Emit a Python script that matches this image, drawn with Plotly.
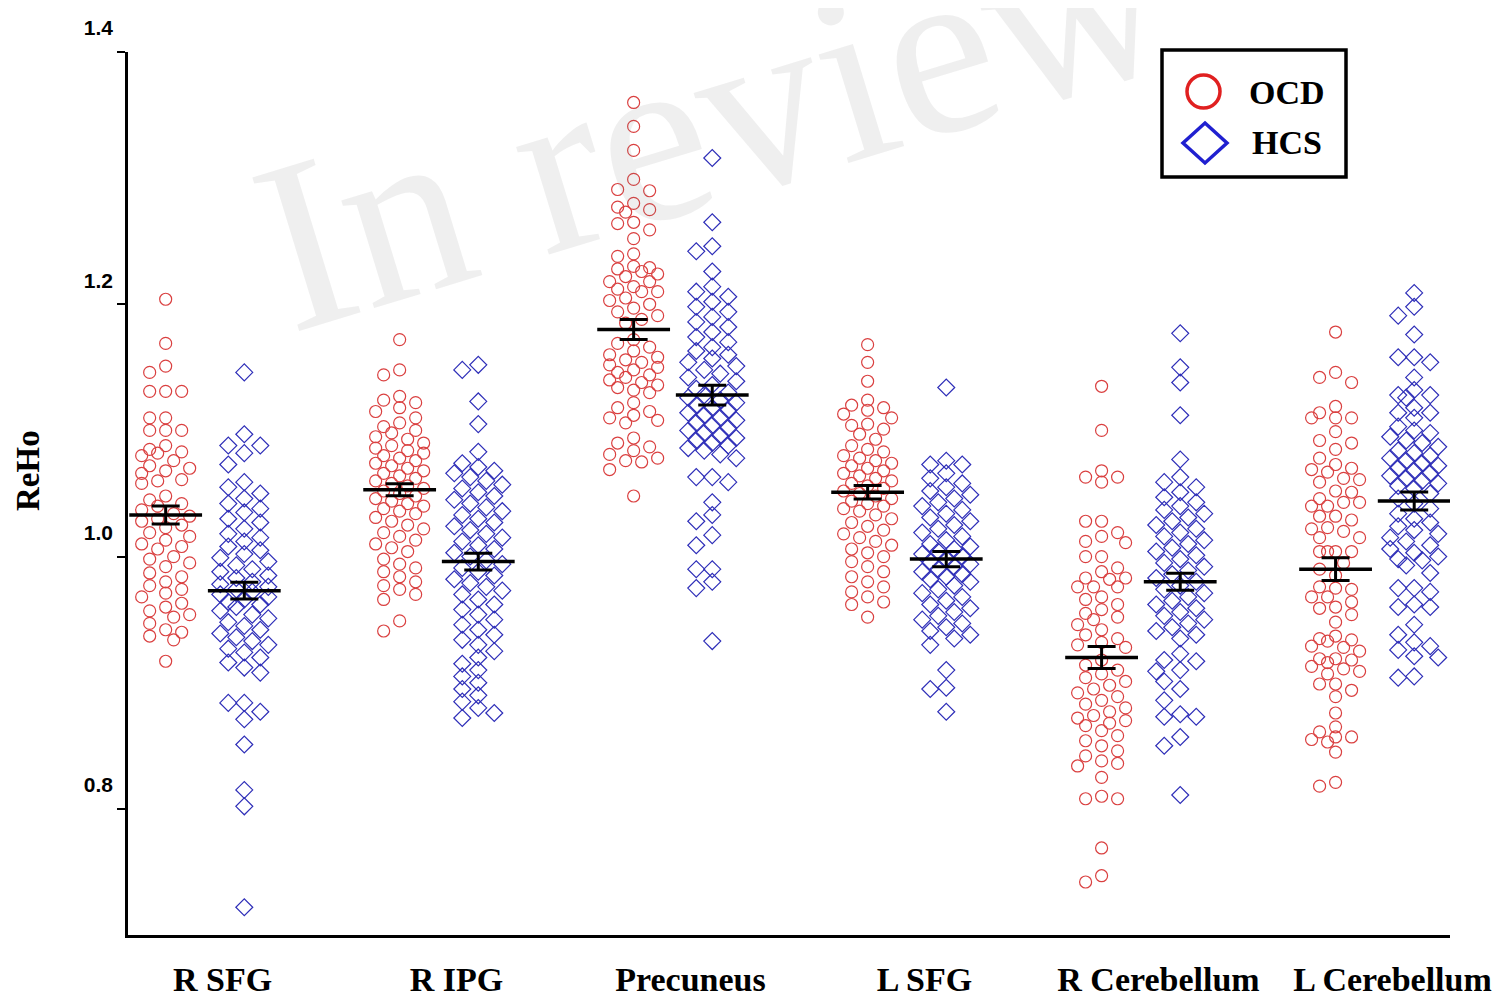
import numpy as np
import plotly.graph_objects as go

categories = ["R SFG", "R IPG", "Precuneus", "L SFG", "R Cerebellum", "L Cerebellum"]
tick_values = [0.8, 1.0, 1.2, 1.4]
tick_labels = ["0.8", "1.0", "1.2", "1.4"]

ocd_rsfg = [1.204, 1.169, 1.151, 1.146, 1.131, 1.131, 1.131, 1.110, 1.110, 1.100, 1.100, 1.100,
            1.088, 1.085, 1.083, 1.082, 1.080, 1.076, 1.072, 1.070, 1.068, 1.066, 1.061, 1.060, 1.058,
            1.048, 1.045, 1.042, 1.040, 1.037, 1.034, 1.032, 1.030, 1.028, 1.025, 1.023, 1.019, 1.016,
            1.013, 1.010, 1.008, 1.006, 1.000, 0.998, 0.995, 0.992, 0.987, 0.984, 0.980, 0.977, 0.974,
            0.971, 0.968, 0.963, 0.960, 0.957, 0.954, 0.952, 0.947, 0.942, 0.940, 0.937, 0.934, 0.917]
hcs_rsfg = [1.146, 1.097, 1.088, 1.088, 1.082, 1.073,
            1.059, 1.055, 1.050, 1.046, 1.042, 1.038, 1.035, 1.030, 1.027, 1.022, 1.018, 1.015, 1.012,
            1.008, 1.005, 1.002, 0.999, 0.996, 0.993, 0.990, 0.988, 0.985, 0.983, 0.980, 0.978, 0.976,
            0.974, 0.972, 0.970, 0.968, 0.966, 0.964, 0.962, 0.960, 0.957, 0.954, 0.951, 0.948, 0.945,
            0.942, 0.939, 0.936, 0.933, 0.930, 0.927, 0.924, 0.920, 0.916, 0.912, 0.908,
            0.884, 0.884, 0.877, 0.871, 0.851, 0.815, 0.802, 0.722]
ocd_ripg = [1.172, 1.148, 1.144, 1.127, 1.124, 1.122, 1.118, 1.115, 1.110,
            1.106, 1.103, 1.100, 1.098, 1.095, 1.093, 1.090, 1.088, 1.086, 1.084, 1.082, 1.080, 1.078,
            1.076, 1.074, 1.072, 1.070, 1.068, 1.066, 1.064, 1.062, 1.060, 1.058, 1.056, 1.054, 1.052,
            1.050, 1.048, 1.046, 1.044, 1.042, 1.040, 1.038, 1.036, 1.034, 1.031, 1.028, 1.025, 1.022,
            1.019, 1.016, 1.013, 1.010, 1.007, 1.004,
            0.998, 0.994, 0.991, 0.988, 0.984, 0.980, 0.977, 0.974, 0.970, 0.966, 0.949, 0.941]
hcs_ripg = [1.152, 1.148, 1.123, 1.105, 1.083,
            1.074, 1.071, 1.068, 1.066, 1.063, 1.060, 1.057, 1.054, 1.051, 1.048, 1.045, 1.042, 1.039,
            1.036, 1.033, 1.030, 1.027, 1.024, 1.021, 1.018, 1.015, 1.012, 1.009, 1.006, 1.003, 1.000,
            0.997, 0.994, 0.991, 0.988, 0.985, 0.982, 0.979, 0.976, 0.973, 0.970, 0.966, 0.962, 0.958,
            0.954, 0.950, 0.946, 0.942, 0.938, 0.934, 0.930, 0.925, 0.920, 0.915, 0.910, 0.905, 0.900,
            0.895, 0.890, 0.885, 0.880, 0.876, 0.872]
ocd_prec = [1.360, 1.341, 1.322, 1.299, 1.291, 1.290, 1.280, 1.277, 1.275, 1.273, 1.265, 1.264,
            1.259, 1.252, 1.240, 1.238, 1.230, 1.229, 1.228, 1.226, 1.224, 1.222, 1.218, 1.218, 1.214,
            1.212, 1.210, 1.210, 1.205, 1.203, 1.200, 1.197, 1.194, 1.191, 1.188, 1.185,
            1.172, 1.169, 1.166, 1.163, 1.160, 1.158, 1.156, 1.154, 1.152, 1.150, 1.148, 1.146, 1.144,
            1.142, 1.140, 1.138, 1.136, 1.134, 1.132, 1.130, 1.122, 1.118, 1.115, 1.112, 1.110, 1.108,
            1.106, 1.094, 1.090, 1.087, 1.084, 1.081, 1.078, 1.076, 1.075, 1.069, 1.048]
hcs_prec = [1.316, 1.265, 1.246, 1.242, 1.226,
            1.214, 1.210, 1.206, 1.202, 1.198, 1.194, 1.190, 1.186, 1.182, 1.178, 1.174, 1.170, 1.166,
            1.163, 1.160, 1.157, 1.154, 1.151, 1.148, 1.145, 1.142, 1.139, 1.136, 1.133, 1.130, 1.128,
            1.126, 1.124, 1.122, 1.120, 1.118, 1.116, 1.114, 1.112, 1.110, 1.108, 1.106, 1.104, 1.102,
            1.100, 1.098, 1.096, 1.094, 1.092, 1.090, 1.088, 1.086, 1.084, 1.081, 1.078,
            1.063, 1.063, 1.059, 1.043, 1.033, 1.028, 1.017, 1.009, 0.990, 0.990, 0.980, 0.975, 0.933]
ocd_lsfg = [1.168, 1.154, 1.139, 1.124, 1.120, 1.118, 1.116, 1.113, 1.110, 1.105, 1.104, 1.101,
            1.097, 1.093,
            1.088, 1.085, 1.083, 1.080, 1.078, 1.076, 1.074, 1.072, 1.070, 1.068, 1.066, 1.064, 1.062,
            1.060, 1.058, 1.056, 1.054, 1.052, 1.050, 1.048, 1.046, 1.044, 1.042, 1.040, 1.038, 1.036,
            1.033, 1.030, 1.027, 1.024, 1.021, 1.018, 1.015, 1.012, 1.009, 1.006, 1.003, 1.000, 0.996,
            0.992, 0.988, 0.984, 0.980, 0.976, 0.972, 0.968, 0.964, 0.962, 0.952]
hcs_lsfg = [1.134, 1.076, 1.073, 1.073,
            1.066, 1.062, 1.058, 1.055, 1.052, 1.049, 1.046, 1.043, 1.040, 1.037, 1.034, 1.031, 1.028,
            1.025, 1.022, 1.019, 1.016, 1.013, 1.010, 1.008, 1.006, 1.004, 1.002, 1.000, 0.998, 0.996,
            0.994, 0.992, 0.990, 0.988, 0.986, 0.984, 0.982, 0.980, 0.977, 0.974, 0.971, 0.968, 0.965,
            0.962, 0.959, 0.956, 0.953, 0.950, 0.947, 0.944, 0.941, 0.938, 0.935,
            0.930, 0.910, 0.896, 0.895, 0.877]
ocd_rcer = [1.135, 1.100, 1.068, 1.063, 1.063, 1.059, 1.028, 1.028, 1.019, 1.016, 1.012, 1.011,
            1.000, 1.000, 0.991, 0.988, 0.983, 0.983, 0.982, 0.976, 0.976, 0.976, 0.968,
            0.966, 0.962, 0.958, 0.955, 0.952, 0.950, 0.946, 0.942, 0.938, 0.935, 0.932, 0.930, 0.928,
            0.918, 0.914, 0.910, 0.907, 0.904, 0.901, 0.898, 0.895, 0.892, 0.889, 0.886, 0.883, 0.880,
            0.877, 0.874, 0.872, 0.870, 0.868, 0.866, 0.862, 0.858, 0.854, 0.850, 0.846, 0.842, 0.838,
            0.836, 0.834, 0.825, 0.810, 0.808, 0.808, 0.769, 0.747, 0.742]
hcs_rcer = [1.177, 1.150, 1.138, 1.112, 1.077,
            1.063, 1.059, 1.055, 1.051, 1.047, 1.043, 1.040, 1.037, 1.034, 1.031, 1.028, 1.025, 1.022,
            1.019, 1.016, 1.013, 1.010, 1.007, 1.004, 1.001, 0.998, 0.995, 0.992, 0.989, 0.986, 0.983,
            0.980, 0.977, 0.974, 0.971, 0.968, 0.965, 0.962, 0.959, 0.956, 0.953, 0.950, 0.947, 0.944,
            0.941, 0.938, 0.935,
            0.923, 0.918, 0.917, 0.910, 0.909, 0.901, 0.895, 0.886, 0.875, 0.873, 0.873, 0.857, 0.850,
            0.811]
ocd_lcer = [1.178, 1.146, 1.142, 1.138, 1.119, 1.114, 1.110, 1.110, 1.110, 1.099, 1.092, 1.090,
            1.085, 1.078, 1.073, 1.070, 1.069, 1.067, 1.062, 1.061, 1.059, 1.052, 1.051, 1.046, 1.043,
            1.043, 1.040, 1.040, 1.032, 1.032, 1.029, 1.023, 1.022, 1.020, 1.015, 1.015, 1.004, 1.004,
            1.004, 1.004, 0.995, 0.990, 0.985,
            0.976, 0.975, 0.974, 0.968, 0.968, 0.964, 0.960, 0.959, 0.954, 0.948, 0.937, 0.935, 0.934,
            0.933, 0.929, 0.928, 0.925, 0.919, 0.919, 0.918, 0.916, 0.913, 0.911, 0.909, 0.907, 0.899,
            0.899, 0.894, 0.889, 0.876, 0.865, 0.861, 0.857, 0.857, 0.855, 0.853, 0.845, 0.821, 0.818]
hcs_lcer = [1.209, 1.198, 1.191, 1.176, 1.158, 1.158, 1.154, 1.142, 1.132, 1.128, 1.128, 1.126,
            1.118, 1.114, 1.114, 1.110,
            1.103, 1.100, 1.098, 1.095, 1.092, 1.090, 1.087, 1.084, 1.082, 1.080, 1.078, 1.076, 1.074,
            1.072, 1.070, 1.068, 1.066, 1.064, 1.062, 1.060, 1.058, 1.056, 1.054, 1.050, 1.046, 1.042,
            1.038, 1.034, 1.030, 1.027, 1.024, 1.021, 1.018, 1.015, 1.012, 1.009, 1.006, 1.003, 1.000,
            0.998, 0.997, 0.993, 0.987, 0.975, 0.975, 0.972, 0.962, 0.960, 0.960, 0.946, 0.938, 0.932,
            0.929, 0.926, 0.921, 0.920, 0.905, 0.904]

ocd_groups = [ocd_rsfg, ocd_ripg, ocd_prec, ocd_lsfg, ocd_rcer, ocd_lcer]
hcs_groups = [hcs_rsfg, hcs_ripg, hcs_prec, hcs_lsfg, hcs_rcer, hcs_lcer]

ocd_mean = [1.033, 1.053, 1.180, 1.051, 0.920, 0.990]
ocd_sem = [0.0071, 0.0047, 0.0079, 0.0053, 0.0087, 0.0090]
hcs_mean = [0.973, 0.996, 1.128, 0.998, 0.980, 1.044]
hcs_sem = [0.0067, 0.0067, 0.0079, 0.0060, 0.0067, 0.0071]

# ---- layout geometry (page body has an 8px margin) ----
OFF = 8
W, H = 1512 - OFF, 1001 - OFF
ML, MT = 128 - OFF, 52 - OFF
PR, PB = 1450 - OFF, 935 - OFF          # plot right / bottom in figure px
MR, MB = W - PR, H - PB
PW, PH = PR - ML, PB - MT
Y_RANGE = [0.70, 1.40]
X_RANGE = [-0.329, 5.321]
PX_X = PW / (X_RANGE[1] - X_RANGE[0])
PX_Y = PH / (Y_RANGE[1] - Y_RANGE[0])
GROUP_OFF = 0.168

RED = "#DA4040"
BLUE = "#2E2EB8"


def swarm_offsets(values, d=12.5):
    cands = [0, -16, 16, -8, 8, -24, 24]
    placed = []
    offs = []
    for v in values:
        ypx = v * PX_Y
        best, bestd = 0, -1.0
        for c in cands:
            md = min((np.hypot(c - px, ypx - py) for px, py in placed), default=1e9)
            if md >= d:
                best = c
                break
            if md > bestd:
                bestd, best = md, c
        placed.append((best, ypx))
        offs.append(best / PX_X)
    return np.array(offs)


def px2paper(sx, sy):
    """screen pixel -> paper fraction"""
    fx, fy = sx - OFF, sy - OFF
    return (fx - ML) / PW, (PB - fy) / PH


fig = go.Figure()

for i, (og, hg) in enumerate(zip(ocd_groups, hcs_groups)):
    xo = i - GROUP_OFF + swarm_offsets(og)
    xh = i + GROUP_OFF + swarm_offsets(hg)
    fig.add_trace(go.Scatter(x=xo, y=og, mode="markers", showlegend=False,
                             marker=dict(symbol="circle-open", size=12, color=RED,
                                         line=dict(width=1.2, color=RED))))
    fig.add_trace(go.Scatter(x=xh, y=hg, mode="markers", showlegend=False,
                             marker=dict(symbol="diamond-open", size=13, color=BLUE,
                                         line=dict(width=1.2, color=BLUE))))

# mean +/- SEM bars
mx = [i - GROUP_OFF for i in range(len(categories))] + [i + GROUP_OFF for i in range(len(categories))]
my = ocd_mean + hcs_mean
ms = ocd_sem + hcs_sem
fig.add_trace(go.Scatter(x=mx, y=my, mode="markers", showlegend=False,
                         marker=dict(symbol="line-ew", size=52, color="black",
                                     line=dict(width=3.5, color="black")),
                         error_y=dict(type="data", array=ms, visible=True,
                                      color="black", thickness=3, width=14)))

# watermark
wx, wy = px2paper(712, 118)
fig.add_annotation(text="In review", xref="paper", yref="paper", x=wx, y=wy,
                   xanchor="center", yanchor="middle",
                   showarrow=False, textangle=-17,
                   font=dict(family="Liberation Serif", size=245, color="rgba(120,120,120,0.12)"))

# y axis title
tx, ty = px2paper(28, 471)
fig.add_annotation(text="<b>ReHo</b>", xref="paper", yref="paper", x=tx, y=ty,
                   xanchor="center", yanchor="middle", showarrow=False, textangle=-90,
                   font=dict(family="Liberation Serif", size=33, color="black"))

# legend box
lx0, ly0 = px2paper(1162, 177)
lx1, ly1 = px2paper(1346, 50)
fig.add_shape(type="rect", xref="paper", yref="paper", x0=lx0, y0=ly0, x1=lx1, y1=ly1,
              line=dict(color="black", width=3.5), fillcolor="white")
cx0, cy0 = px2paper(1187, 108)
cx1, cy1 = px2paper(1220, 75)
fig.add_shape(type="circle", xref="paper", yref="paper", x0=cx0, y0=cy0, x1=cx1, y1=cy1,
              line=dict(color="#E02020", width=3.5))
pts = [px2paper(1205, 123), px2paper(1227, 143), px2paper(1205, 163), px2paper(1183, 143)]
path = "M {} {} L {} {} L {} {} L {} {} Z".format(*[c for p in pts for c in p])
fig.add_shape(type="path", xref="paper", yref="paper", path=path,
              line=dict(color="#2020D0", width=3.5))
for txt, py in [("OCD", 92), ("HCS", 143)]:
    ax, ay = px2paper(1287, py)
    fig.add_annotation(text="<b>%s</b>" % txt, xref="paper", yref="paper", x=ax, y=ay,
                       showarrow=False, xanchor="center", yanchor="middle",
                       font=dict(family="Liberation Serif", size=34, color="black"))

fig.update_layout(
    width=W, height=H,
    margin=dict(l=ML, r=MR, t=MT, b=MB, autoexpand=False),
    paper_bgcolor="white", plot_bgcolor="white",
    showlegend=False,
    xaxis=dict(range=X_RANGE, showgrid=False, zeroline=False, showline=True,
               linecolor="black", linewidth=2.5, ticks="",
               tickvals=[i + 0.075 for i in range(len(categories))],
               ticktext=["<b>%s</b>" % c for c in categories],
               ticklabelstandoff=12,
               tickfont=dict(family="Liberation Serif", size=34, color="black")),
    yaxis=dict(range=Y_RANGE, showgrid=False, zeroline=False, showline=True,
               linecolor="black", linewidth=2.5, ticks="outside", ticklen=8, tickwidth=2,
               tickcolor="black", tickvals=tick_values,
               ticktext=["<b>%s</b>" % t for t in tick_labels],
               ticklabelshift=-24,
               tickfont=dict(family="Liberation Sans", size=21, color="black")),
)

fig.write_html("out.html")
